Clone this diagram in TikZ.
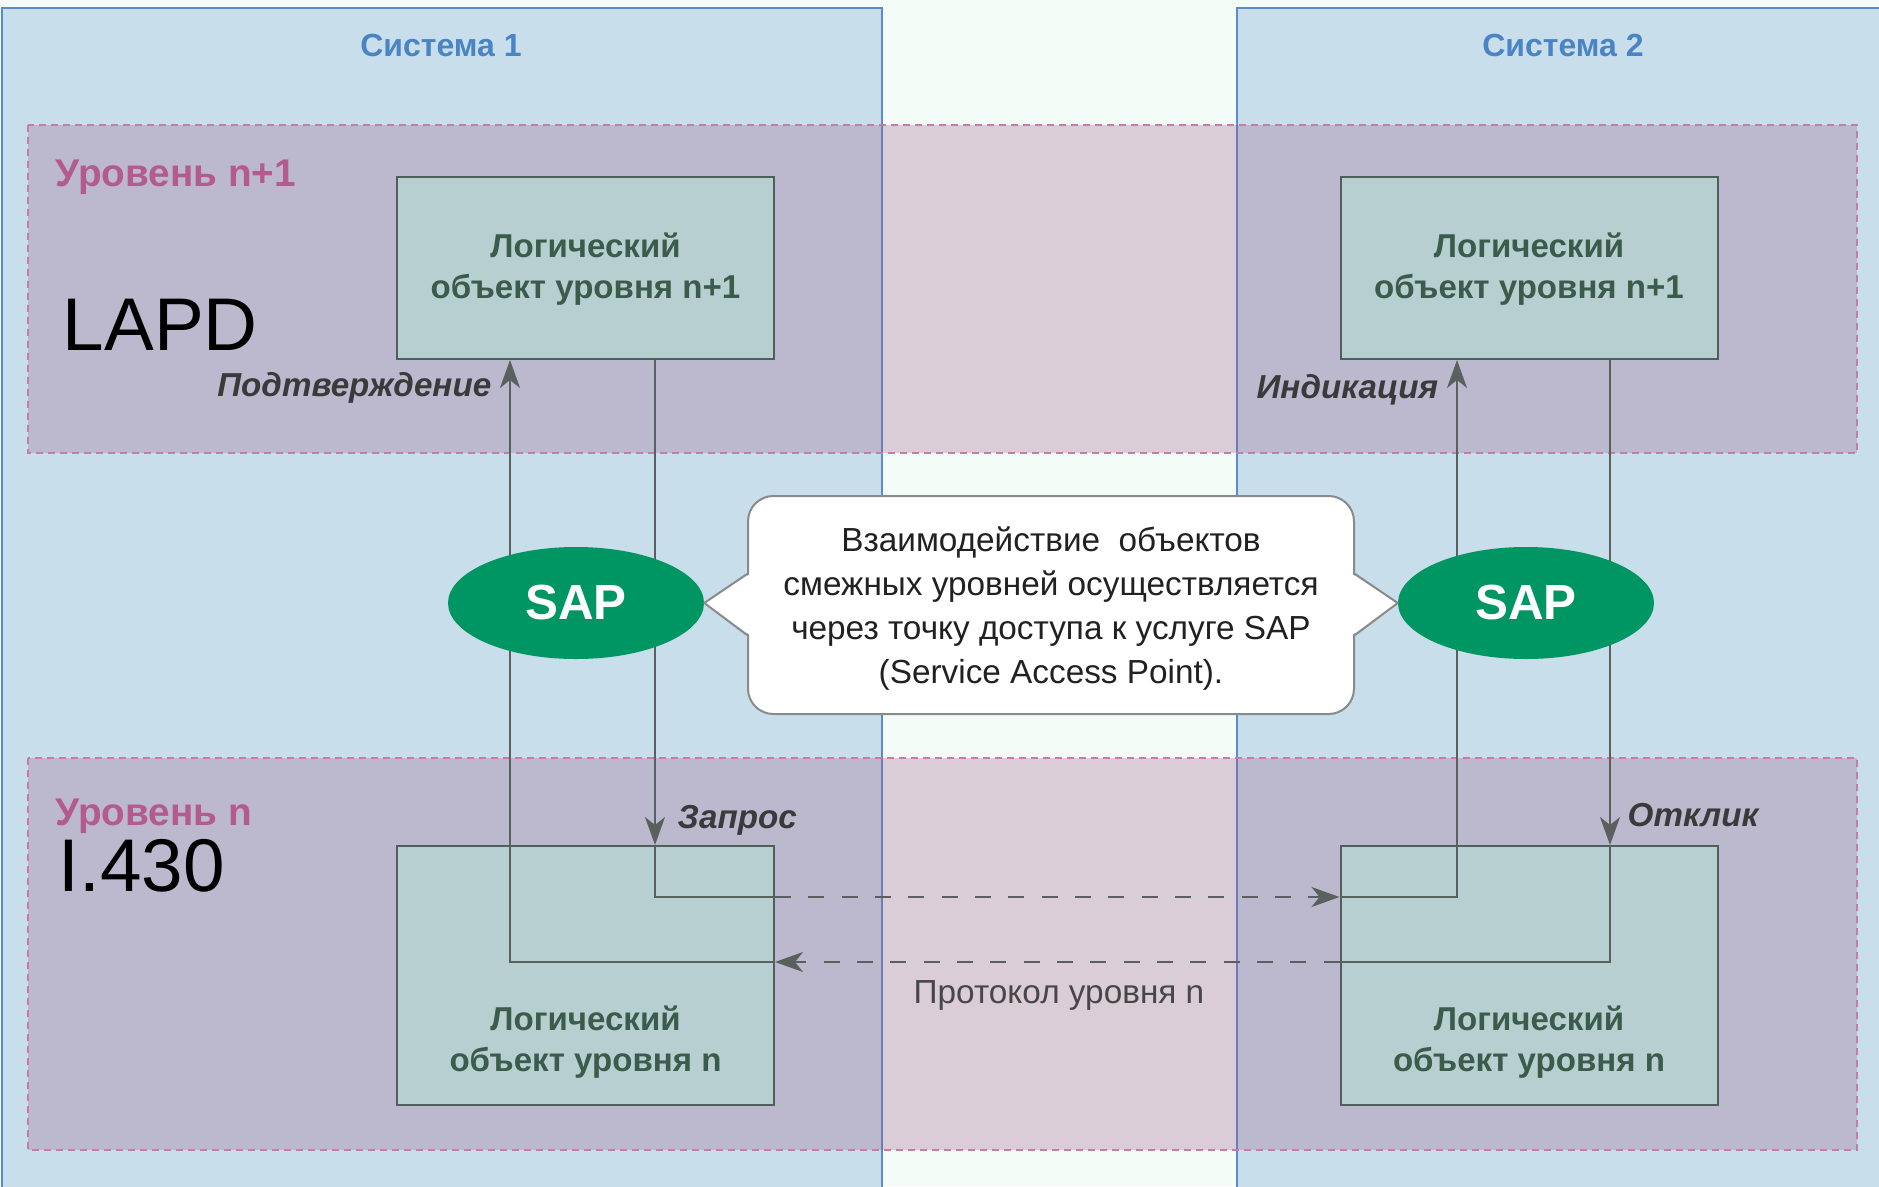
\documentclass[tikz,border=0pt]{standalone}
\usepackage{fontspec}
\setmainfont{Liberation Sans}
\usetikzlibrary{arrows.meta,shapes.geometric,calc}

\definecolor{bgmint}{RGB}{243,252,247}
\definecolor{sysfill}{RGB}{200,222,234}
\definecolor{sysline}{RGB}{90,138,208}
\definecolor{systext}{RGB}{74,132,196}
\definecolor{lvlfill}{RGB}{157,86,136}
\definecolor{lvlline}{RGB}{199,123,168}
\definecolor{lvltext}{RGB}{179,90,142}
\definecolor{objfill}{RGB}{184,207,210}
\definecolor{objline}{RGB}{79,95,90}
\definecolor{objtext}{RGB}{59,92,74}
\definecolor{sapgreen}{RGB}{0,150,100}
\definecolor{wirecol}{RGB}{90,96,94}
\definecolor{notebd}{RGB}{138,138,138}
\definecolor{labeltext}{RGB}{58,58,58}

\begin{document}
\begin{tikzpicture}[x=0.75pt,y=-0.75pt,
  sysregion/.style={fill=sysfill, draw=sysline, line width=1.2pt},
  lvlregion/.style={fill=lvlfill, fill opacity=0.28, draw=lvlline, line width=1.3pt, dash pattern=on 5pt off 4pt},
  objbox/.style={draw=objline, fill=objfill, line width=1.5pt, minimum width=282.75pt, inner sep=0pt},
  objtext/.style={text=objtext, font=\fontsize{24.8pt}{30.5pt}\selectfont\bfseries, align=center, anchor=base},
  sapnode/.style={ellipse, fill=sapgreen, minimum width=192pt, minimum height=84pt, inner sep=0pt, text=white, font=\fontsize{37pt}{40pt}\selectfont\bfseries},
  wireline/.style={draw=wirecol, line width=1.5pt},
  arrowed/.style={-{Stealth[length=21pt,width=15pt,inset=6pt]}},
  dashedwire/.style={dash pattern=on 12pt off 13pt},
  systitle/.style={text=systext, font=\fontsize{24pt}{28pt}\selectfont\bfseries, anchor=base},
  lvltitle/.style={text=lvltext, font=\fontsize{29pt}{32pt}\selectfont\bfseries, anchor=base west},
  stdname/.style={text=black, font=\fontsize{56pt}{60pt}\selectfont, anchor=base west},
  msglabel/.style={text=labeltext, font=\fontsize{24.9pt}{28pt}\selectfont\bfseries\itshape},
  note/.style={rectangle, rounded corners=19pt, draw=notebd, line width=1.5pt, fill=white,
    minimum width=454.5pt, minimum height=163.5pt, inner sep=0pt},
  notetext/.style={align=center, text=black!87, font=\fontsize{25pt}{33pt}\selectfont},
  protolabel/.style={text=black!72, font=\fontsize{25pt}{28pt}\selectfont, anchor=base}]

\useasboundingbox (0,0) rectangle (1879,1186);
\clip (0,0) rectangle (1879,1186);
\fill[bgmint] (0,0) rectangle (1879,1186);

% the two systems
\draw[sysregion] (2,8) rectangle (882,1200);
\draw[sysregion] (1237,8) rectangle (1890,1200);
\node[systitle] (sys1) at (441,56) {Система 1};
\node[systitle] (sys2) at (1563,56) {Система 2};

% protocol levels
\draw[lvlregion] (28,125) rectangle (1857,453);
\draw[lvlregion] (28,758) rectangle (1857,1150);
\node[lvltitle] (lvl1) at (51,186) {Уровень n+1};
\node[lvltitle] (lvl0) at (51,825) {Уровень n};
\node[stdname] (lapd) at (58,350) {LAPD};
\node[stdname] (i430) at (54,891) {I.430};

% logical objects
\node[objbox, minimum height=136.5pt] (tl) at (585.5,268) {};
\node[objbox, minimum height=136.5pt] (tr) at (1529,268) {};
\node[objbox, minimum height=194.25pt] (bl) at (585.5,975.5) {};
\node[objbox, minimum height=194.25pt] (br) at (1529,975.5) {};
\node[objtext] (tlt) at (585.5,298) {Логический\\объект уровня n+1};
\node[objtext] (trt) at (1529,298) {Логический\\объект уровня n+1};
\node[objtext] (blt) at (585.5,1071) {Логический\\объект уровня n};
\node[objtext] (brt) at (1529,1071) {Логический\\объект уровня n};

% columns and rows of the primitives
\coordinate (xp) at (510,0);
\coordinate (xq) at (655,0);
\coordinate (xi) at (1457,0);
\coordinate (xo) at (1610,0);
\coordinate (r1) at (0,897);
\coordinate (r2) at (0,962);

% request -> indication
\draw[wireline, arrowed] (xq |- tl.south) -- (xq |- bl.north);
\draw[wireline] (xq |- bl.north) -- (xq |- r1) -- (bl.east |- r1);
\draw[wireline, dashedwire, arrowed] (bl.east |- r1) -- (br.west |- r1);
\draw[wireline, arrowed] (br.west |- r1) -- (xi |- r1) -- (xi |- tr.south);

% response -> confirmation
\draw[wireline, arrowed] (xo |- tr.south) -- (xo |- br.north);
\draw[wireline] (xo |- br.north) -- (xo |- r2) -- (br.west |- r2);
\draw[wireline, dashedwire, arrowed] (br.west |- r2) -- (bl.east |- r2);
\draw[wireline, arrowed] (bl.east |- r2) -- (xp |- r2) -- (xp |- tl.south);

\node[msglabel, anchor=base west] (req) at (673,828) {Запрос};
\node[msglabel, anchor=base east] (cnf) at (496,396) {Подтверждение};
\node[msglabel, anchor=base east] (ind) at (1443,398) {Индикация};
\node[msglabel, anchor=base west] (rsp) at (1623,826) {Отклик};
\node[protolabel] (proto) at (1059,1003) {Протокол уровня n};

% service access points
\node[sapnode] (sapL) at (576,603) {SAP};
\node[sapnode] (sapR) at (1526,603) {SAP};

% callout
\node[note] (note) at (1051,605) {};
\fill[white] ($(note.west)+(3,-31)$) -- (sapL.east) -- ($(note.west)+(3,30)$) -- cycle;
\draw[notebd, line width=1.5pt, line join=round] ($(note.west)+(0,-31)$) -- (sapL.east) -- ($(note.west)+(0,30)$);
\fill[white] ($(note.east)+(-3,-31)$) -- (sapR.west) -- ($(note.east)+(-3,30)$) -- cycle;
\draw[notebd, line width=1.5pt, line join=round] ($(note.east)+(0,-31)$) -- (sapR.west) -- ($(note.east)+(0,30)$);
\node[notetext] (notetxt) at (1051,609) {Взаимодействие\ \ объектов\\смежных уровней осуществляется\\через точку доступа к услуге SAP\\(Service Access Point).};

\end{tikzpicture}
\end{document}
